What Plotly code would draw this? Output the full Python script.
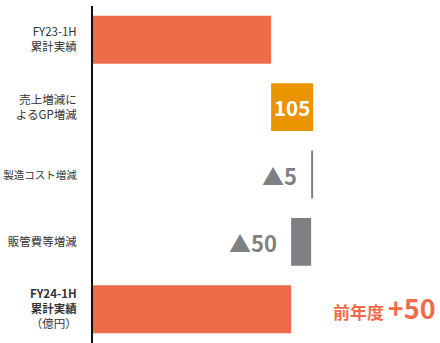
import plotly.graph_objects as go

categories = [
    "FY23-1H<br>累計実績",
    "売上増減に<br>よるGP増減",
    "<span style='font-size:10.5px'>製造コスト増減</span>",
    "販管費等増減",
    "<b>FY24-1H<br>累計実績</b><br>（億円）",
]
start_value = 445
deltas = [105, -5, -50]
delta_labels = ["105", "▲5", "▲50"]
end_value = 495
diff_label_prefix = "前年度"
diff_label_value = "+50"

ORANGE = "#EE6C4A"
AMBER = "#EA9400"
GRAY = "#7F8083"
FONT = "Noto Sans CJK JP"

# compute waterfall bases
bases = [0]
widths = [start_value]
colors = [ORANGE]
running = start_value
for d in deltas:
    if d >= 0:
        bases.append(running)
        widths.append(d)
        colors.append(AMBER)
    else:
        bases.append(running + d)
        widths.append(-d)
        colors.append(GRAY)
    running += d
bases.append(0)
widths.append(end_value)
colors.append(ORANGE)

texts = [""] + ["<b>%s</b>" % delta_labels[0], "", ""] + [""]

fig = go.Figure()
fig.add_trace(go.Bar(
    y=categories, x=widths, base=bases, orientation="h",
    marker=dict(color=colors, line=dict(width=0)),
    text=texts, textposition="inside", insidetextanchor="middle",
    textangle=0, constraintext="none", cliponaxis=False,
    textfont=dict(color="white", size=20.5, family=FONT),
    hoverinfo="skip",
))

# negative delta labels to the left of the bars
for i, (d, lab) in enumerate(zip(deltas, delta_labels)):
    if d < 0:
        fig.add_annotation(
            x=bases[i + 1], y=categories[i + 1], xref="x", yref="y",
            text="<b>%s</b>" % lab, showarrow=False, xanchor="right",
            xshift=-12, font=dict(size=22, color=GRAY, family=FONT),
        )

fig.add_annotation(
    x=end_value, y=categories[-1], xref="x", yref="y",
    text="<b><span style='font-size:17px'>%s </span>%s</b>" % (diff_label_prefix, diff_label_value),
    showarrow=False, xanchor="left", xshift=40, yshift=2,
    font=dict(size=27, color=ORANGE, family=FONT),
)

fig.update_layout(
    width=440, height=343,
    margin=dict(l=93, r=0, t=6, b=0),
    paper_bgcolor="white", plot_bgcolor="white",
    bargap=0.29, showlegend=False,
    font=dict(family=FONT, color="#333333", size=11),
)
fig.update_xaxes(range=[0, 867], visible=False)
fig.update_yaxes(
    autorange="reversed", showline=True, linecolor="#111111", linewidth=2,
    ticks="", ticklabelstandoff=12, showgrid=False, automargin=False,
    tickfont=dict(size=11.5, color="#333333", family=FONT),
)

fig.write_html("out.html")
